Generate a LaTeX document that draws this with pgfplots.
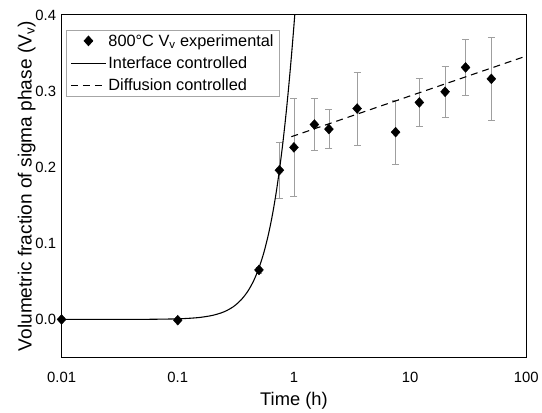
\documentclass[border=0pt]{standalone}
\usepackage{pgfplots}
\pgfplotsset{compat=1.18}
\usepackage{fontspec}
\setmainfont{Liberation Sans}
\pgfplotsset{
  myleg/.style={legend image code/.code={\draw[mark repeat=2,mark phase=2,##1] plot coordinates {(0cm,0cm) (0.62cm,0cm) (1.24cm,0cm)};}},
}
\begin{document}
\begin{tikzpicture}
\begin{axis}[
  scale only axis,
  width=468bp, height=345bp,
  xmode=log,
  xmin=0.01, xmax=100,
  ymin=-0.05, ymax=0.4,
  xtick={0.01,0.1,1,10,100},
  xticklabels={0.01,0.1,1,10,100},
  ytick={0,0.1,0.2,0.3,0.4},
  yticklabel style={xshift=-2bp, /pgf/number format/.cd,fixed,fixed zerofill,precision=1},
  /pgf/number format/assume math mode=true,
  minor tick num=0,
  major tick length=0pt,
  minor tick length=0pt,
  tick style={draw=none},
  axis line style={line width=0.9pt},
  ticklabel style={font=\fontsize{15}{17}\selectfont},
  xticklabel style={yshift=-11bp},
  xlabel style={font=\fontsize{18.5}{21}\selectfont, yshift=-3bp},
  ylabel style={font=\fontsize{19.3}{22}\selectfont, yshift=-7bp},
  xlabel={Time (h)},
  ylabel={Volumetric fraction of sigma phase (V\textsubscript{v})},
  legend style={at={(0.01,0.956)}, anchor=north west, draw=gray!70, line width=0.6pt,
     font=\fontsize{16.5}{19}\selectfont, row sep=5pt, inner xsep=4pt, inner ysep=2pt},
  legend cell align=left,
]
\addplot[only marks, mark=diamond*, mark size=5pt, mark options={fill=black, draw=black, xscale=1.2},
  myleg,
  error bars/.cd, y dir=both, y explicit,
  error bar style={color=gray!75, line width=0.8pt},
  error mark options={rotate=90, mark size=3.5pt, color=gray!75, line width=0.8pt}]
  table[x=t, y=v, y error=e] {
t v e
0.01 0.000 0
0.1 -0.001 0
0.5 0.065 0.004
0.75 0.196 0.037
1 0.226 0.064
1.5 0.256 0.034
2 0.250 0.026
3.5 0.277 0.048
7.5 0.246 0.042
12 0.285 0.032
20 0.299 0.034
30 0.331 0.037
50 0.316 0.055
};
\addlegendentry{800°C V\textsubscript{v} experimental}
\addplot[black, line width=1.1pt, smooth, myleg] coordinates {
(0.01,0.0000) (0.02,0.0000) (0.05,0.0001) (0.1,0.0008) (0.15,0.0024) (0.2,0.0054)
(0.25,0.0100) (0.3,0.0166) (0.35,0.0255) (0.4,0.0368) (0.45,0.0508) (0.5,0.0677)
(0.55,0.0874) (0.6,0.1102) (0.65,0.1359) (0.7,0.1646) (0.75,0.1960) (0.8,0.2300)
(0.85,0.2662) (0.9,0.3047) (0.95,0.3448) (1.0,0.3861) (1.05,0.4285) (1.1,0.4713)
};
\addlegendentry{Interface controlled}
\addplot[black, line width=1.1pt, dash pattern=on 7pt off 5pt, myleg] coordinates {
(0.95,0.240) (100,0.346)
};
\addlegendentry{Diffusion controlled}
\end{axis}
\path (current axis.south west) ++(-62bp,-49bp) (current axis.north east) ++(12bp,15bp);
\end{tikzpicture}
\end{document}
